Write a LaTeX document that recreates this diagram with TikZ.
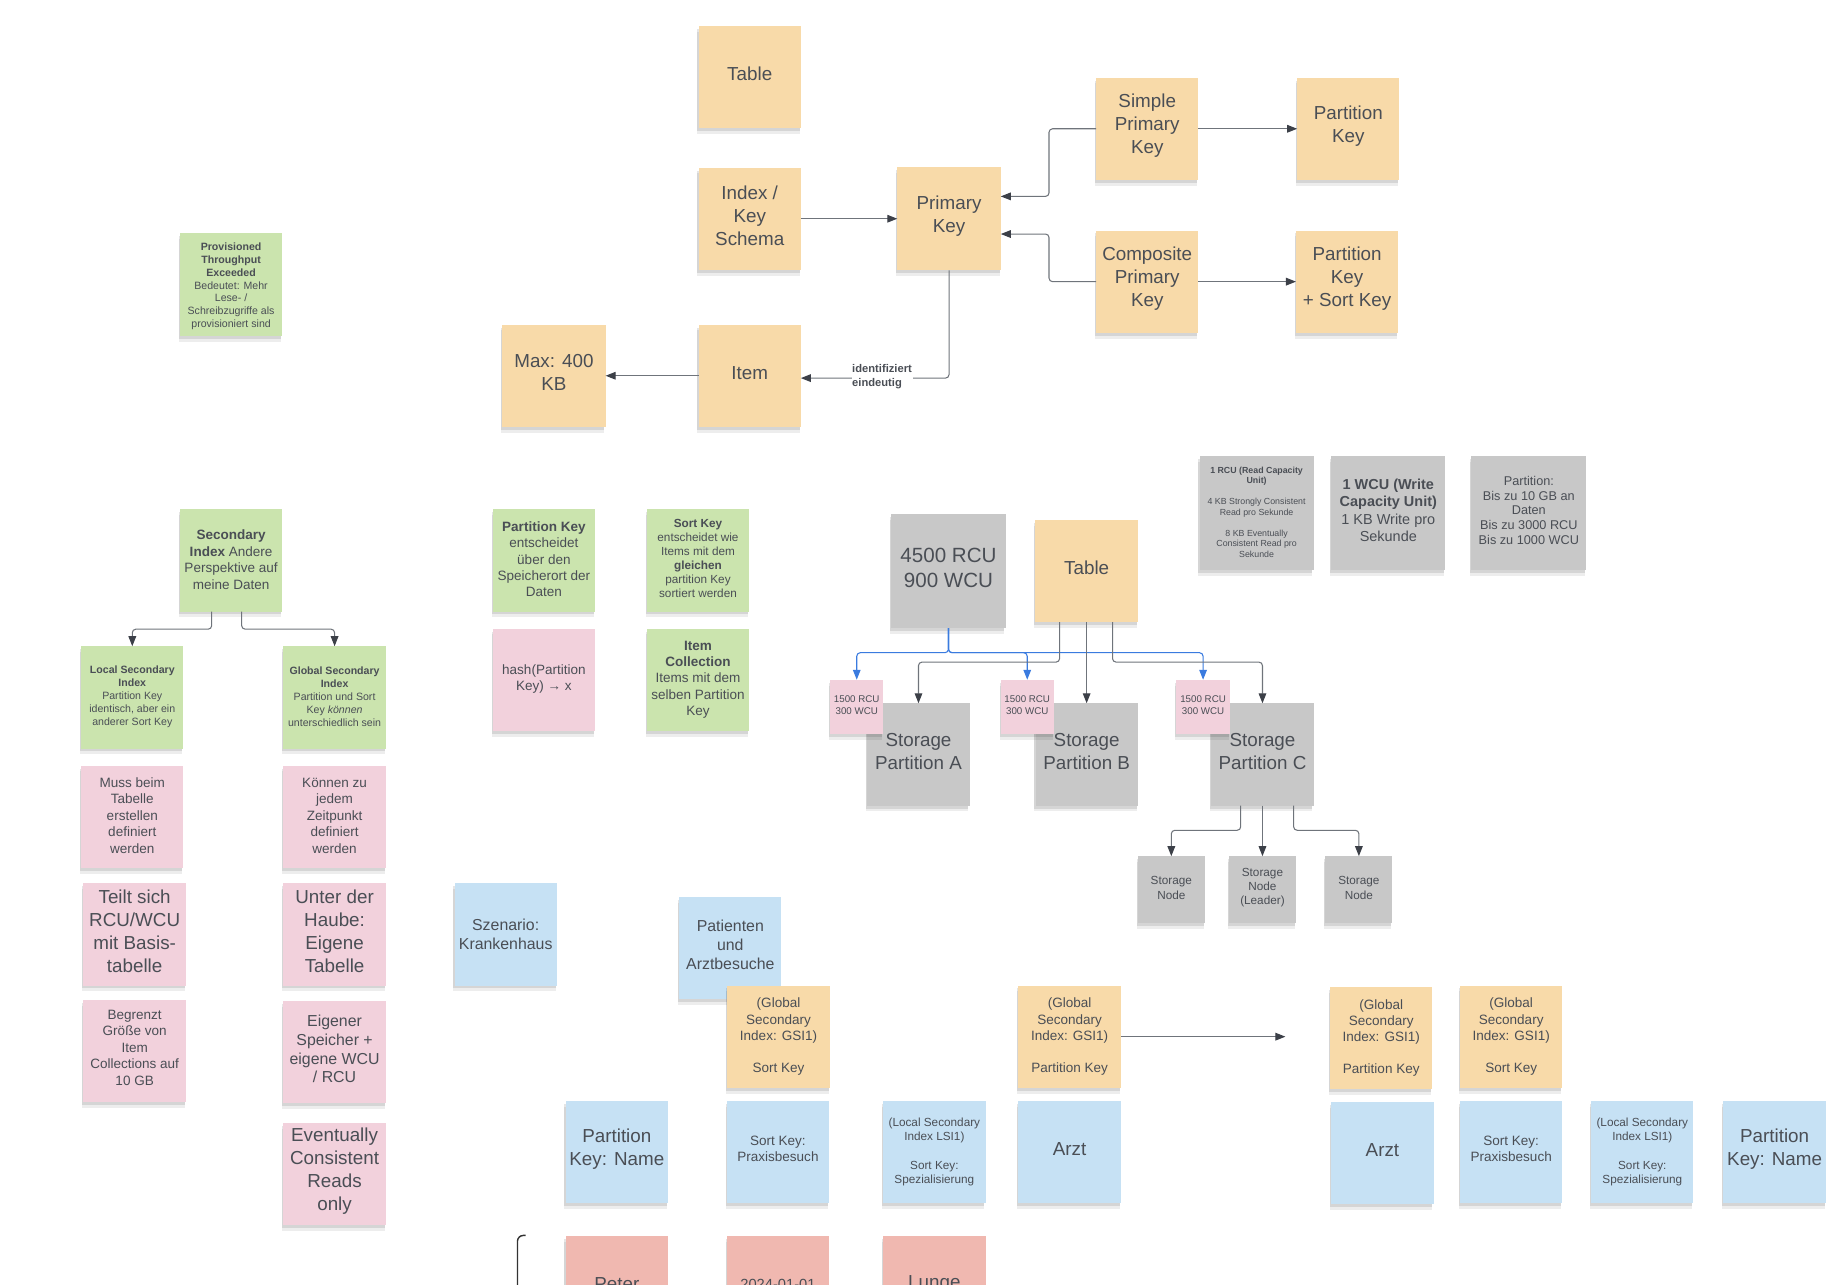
\documentclass[tikz,border=0pt]{standalone}
\usepackage{fontspec}
\setmainfont{Liberation Sans}
\usetikzlibrary{arrows.meta,shadows,calc}
\definecolor{orfill}{HTML}{F8DAA9}
\definecolor{grfill}{HTML}{CBE4AE}
\definecolor{pkfill}{HTML}{F2D1DC}
\definecolor{blfill}{HTML}{C6E1F4}
\definecolor{gyfill}{HTML}{C8C8C8}
\definecolor{smfill}{HTML}{F0B8B0}
\definecolor{txtc}{HTML}{4A4E55}
\definecolor{linec}{HTML}{6F747B}
\definecolor{arrc}{HTML}{3C4048}
\definecolor{bluec}{HTML}{3A7BDF}
\definecolor{brkc}{HTML}{333333}
\newcommand\ftXL{\fontsize{17.5pt}{21pt}\selectfont}
\newcommand\ftL{\fontsize{16pt}{19.5pt}\selectfont}
\newcommand\ftM{\fontsize{13.5pt}{16pt}\selectfont}
\newcommand\ftD{\fontsize{12.5pt}{15pt}\selectfont}
\newcommand\ftW{\fontsize{12.3pt}{14.8pt}\selectfont}
\newcommand\ftN{\fontsize{11.5pt}{14pt}\selectfont}
\newcommand\ftP{\fontsize{10.8pt}{12.7pt}\selectfont}
\newcommand\ftS{\fontsize{10pt}{12pt}\selectfont}
\newcommand\ftI{\fontsize{9.5pt}{11.8pt}\selectfont}
\newcommand\ftT{\fontsize{9pt}{10.9pt}\selectfont}
\newcommand\ftU{\fontsize{8.3pt}{10pt}\selectfont}
\newcommand\ftR{\fontsize{7.5pt}{8.9pt}\selectfont}
\newcommand\stk[6][2.5pt]{%
  \node[#2] (#3) at #4 {};
  \node[nt,font=#5] (#3t) at ([yshift=#1]#3.center) {#6};}
\begin{document}
\begin{tikzpicture}[x=1pt,y=-1pt,
  nt/.style={text=txtc, align=center, inner sep=0pt},
  shadowa/.style={general shadow={fill=black, opacity=0.10, shadow xshift=-1pt, shadow yshift=-2.5pt},
                  general shadow={fill=black, opacity=0.07, shadow xshift=-1pt, shadow yshift=-5pt}},
  note/.style={fill=#1, draw=none, minimum width=87pt, minimum height=87pt, inner sep=0pt, outer sep=0pt, shadowa},
  sz/.style 2 args={minimum width=#1pt, minimum height=#2pt},
  conn/.style={draw=linec, line width=0.9pt, rounded corners=3pt, -{Triangle[length=8.5pt,width=6.5pt,color=arrc]}},
  bconn/.style={draw=bluec, line width=0.9pt, rounded corners=3pt, -{Triangle[length=8.5pt,width=6.5pt]}},
  lbl/.style={fill=white, text=txtc, font=\ftI\bfseries, align=left, inner sep=0.6pt},
  brk/.style={draw=brkc, line width=1.2pt, rounded corners=5pt}
]
\useasboundingbox (0,0) rectangle (1568,1092);
\clip (0,0) rectangle (1568,1092);

% ---------- top: key schema ----------
\stk{note=orfill}{t1}{(637.5,65.5)}{\ftL}{Table}
\stk{note=orfill}{iks}{(637.5,186)}{\ftL}{Index /\\Key\\Schema}
\stk{note=orfill, sz={88}{88}}{pk}{(807,186)}{\ftL}{Primary\\Key}
\stk{note=orfill}{spk}{(975.5,109.5)}{\ftL}{Simple\\Primary\\Key}
\stk{note=orfill}{pk1}{(1146.5,109.5)}{\ftL}{Partition\\Key}
\stk{note=orfill}{cpk}{(975.5,239.5)}{\ftL}{Composite\\Primary\\Key}
\stk{note=orfill}{pksk}{(1145.5,239.5)}{\ftL}{Partition\\Key\\+ Sort Key}
\stk{note=orfill}{item}{(637.5,319.5)}{\ftL}{Item}
\stk{note=orfill, sz={88}{87}}{max}{(471,319.5)}{\ftL}{Max: 400\\KB}
\stk[-1.5pt]{note=grfill}{prov}{(196.5,242)}{\ftT}{\textbf{Provisioned}\\\textbf{Throughput}\\\textbf{Exceeded}\\Bedeutet: Mehr\\Lese- /\\Schreibzugriffe als\\provisioniert sind}

\draw[conn] (iks.east) -- (pk.west);
\draw[conn] (spk.west) -- ++(-40,0) |- ($(pk.east)+(0,-19)$);
\draw[conn] (cpk.west) -- ++(-40,0) |- ($(pk.east)+(0,13)$);
\draw[conn] (spk.east) -- (pk1.west);
\draw[conn] (cpk.east) -- (pksk.west);
\draw[conn] (pk.south) |- ($(item.east)+(0,2)$);
\node[lbl] (idl) at (750,320.5) {identifiziert\\eindeutig};
\draw[conn] (item.west) -- (max.east);

% ---------- storage ----------
\stk{note=gyfill, sz={97}{97}}{r45}{(806.5,485.5)}{\ftXL}{4500 RCU\\900 WCU}
\stk{note=orfill, sz={88}{87}}{t2}{(924,485.5)}{\ftL}{Table}
\stk[1pt]{note=gyfill, sz={97}{97}}{rcu}{(1068.5,436.5)}{\ftR}{\textbf{1 RCU (Read Capacity}\\\textbf{Unit)}\\[8.9pt]4 KB Strongly Consistent\\Read pro Sekunde\\[8.9pt]8 KB Eventually\\Consistent Read pro\\Sekunde}
\stk{note=gyfill, sz={97}{97}}{wcu}{(1180.5,436.5)}{\ftW}{\textbf{1 WCU (Write}\\\textbf{Capacity Unit)}\\1 KB Write pro\\Sekunde}
\stk{note=gyfill, sz={98}{97}}{pinf}{(1300,436.5)}{\ftP}{Partition:\\Bis zu 10 GB an\\Daten\\Bis zu 3000 RCU\\Bis zu 1000 WCU}
\stk{note=gyfill}{spa}{(781,641.5)}{\ftL}{Storage\\Partition A}
\stk{note=gyfill}{spb}{(924,641.5)}{\ftL}{Storage\\Partition B}
\stk{note=gyfill}{spc}{(1073.5,641.5)}{\ftL}{Storage\\Partition C}
\stk[1.5pt]{note=pkfill, sz={45}{46}}{pa}{(728.5,601)}{\ftU}{1500 RCU\\300 WCU}
\stk[1.5pt]{note=pkfill, sz={45}{46}}{pb}{(873.5,601)}{\ftU}{1500 RCU\\300 WCU}
\stk[1.5pt]{note=pkfill, sz={46}{46}}{pc}{(1023,601)}{\ftU}{1500 RCU\\300 WCU}
\stk[1.5pt]{note=gyfill, sz={57}{57}}{sn1}{(996,756.5)}{\ftS}{Storage\\Node}
\stk[1.5pt]{note=gyfill, sz={57}{57}}{sn2}{(1073.5,756.5)}{\ftS}{Storage\\Node\\(Leader)}
\stk[1.5pt]{note=gyfill, sz={57}{57}}{sn3}{(1155.5,756.5)}{\ftS}{Storage\\Node}

\coordinate (bj) at (806.5,555);
\draw[bconn] (r45.south) -- (bj) -| (pa.north);
\draw[bconn] (r45.south) -- (bj) -| (pb.north);
\draw[bconn] (r45.south) -- (bj) -| (pc.north);
\draw[conn] ($(t2.south)+(-23,0)$) -- ++(0,34) -| (spa.north);
\draw[conn] (t2.south) -- (spb.north);
\draw[conn] ($(t2.south)+(22,0)$) -- ++(0,34) -| (spc.north);
\draw[conn] ($(spc.south)+(-18.5,0)$) -- ++(0,21) -| (sn1.north);
\draw[conn] (spc.south) -- (sn2.north);
\draw[conn] ($(spc.south)+(26.5,0)$) -- ++(0,21) -| (sn3.north);

% ---------- secondary index ----------
\stk[0.5pt]{note=grfill}{si}{(196.5,476.5)}{\ftN}{\textbf{Secondary}\\\textbf{Index} Andere\\Perspektive auf\\meine Daten}
\stk[0.5pt]{note=grfill}{lsi}{(112.5,593)}{\ftT}{\textbf{Local Secondary}\\\textbf{Index}\\Partition Key\\identisch, aber ein\\anderer Sort Key}
\stk[0.5pt]{note=grfill}{gsi}{(284.5,593)}{\ftT}{\textbf{Global Secondary}\\\textbf{Index}\\Partition und Sort\\Key \textit{können}\\unterschiedlich sein}
\stk[1pt]{note=pkfill}{m1}{(112.5,694.5)}{\ftN}{Muss beim\\Tabelle\\erstellen\\definiert\\werden}
\stk[1pt]{note=pkfill}{m2}{(284.5,694.5)}{\ftN}{Können zu\\jedem\\Zeitpunkt\\definiert\\werden}
\stk{note=pkfill}{m3}{(114.5,794.5)}{\ftL}{Teilt sich\\RCU/WCU\\mit Basis-\\tabelle}
\stk{note=pkfill}{m4}{(284.5,794.5)}{\ftL}{Unter der\\Haube:\\Eigene\\Tabelle}
\stk{note=pkfill}{m5}{(114.5,893.5)}{\ftN}{Begrenzt\\Größe von\\Item\\Collections auf\\10 GB}
\stk{note=pkfill}{m6}{(284.5,894.5)}{\ftM}{Eigener\\Speicher +\\eigene WCU\\/ RCU}
\stk{note=pkfill}{m7}{(284.5,998.5)}{\ftL}{Eventually\\Consistent\\Reads\\only}
\draw[conn] ($(si.south)+(-16.5,0)$) -- ++(0,15) -| (lsi.north);
\draw[conn] ($(si.south)+(9,0)$) -- ++(0,15) -| (gsi.north);

% ---------- partition / sort key ----------
\stk[1pt]{note=grfill}{pkg}{(462.5,476.5)}{\ftN}{\textbf{Partition Key}\\entscheidet\\über den\\Speicherort der\\Daten}
\stk[1.5pt]{note=grfill}{skg}{(593.5,476.5)}{\ftS}{\textbf{Sort Key}\\entscheidet wie\\Items mit dem\\\textbf{gleichen}\\partition Key\\sortiert werden}
\stk[0.5pt]{note=pkfill}{hash}{(462.5,578)}{\ftN}{hash(Partition\\Key) → x}
\stk[0pt]{note=grfill}{icol}{(593.5,578)}{\ftN}{\textbf{Item}\\\textbf{Collection}\\Items mit dem\\selben Partition\\Key}

% ---------- scenario ----------
\stk[0pt]{note=blfill}{szen}{(430,794.5)}{\ftM}{Szenario:\\Krankenhaus}
\stk{note=blfill}{pat}{(621,806)}{\ftM}{Patienten\\und\\Arztbesuche}
\stk[0pt]{note=orfill}{gs1}{(662,881.5)}{\ftN}{(Global\\Secondary\\Index: GSI1)\\[13pt]Sort Key}
\stk[0pt]{note=orfill}{gp1}{(909.5,881.5)}{\ftN}{(Global\\Secondary\\Index: GSI1)\\[13pt]Partition Key}
\stk[0pt]{note=orfill}{gp2}{(1174.5,882.5)}{\ftN}{(Global\\Secondary\\Index: GSI1)\\[13pt]Partition Key}
\stk[0pt]{note=orfill}{gs2}{(1285,881.5)}{\ftN}{(Global\\Secondary\\Index: GSI1)\\[13pt]Sort Key}
\coordinate (gpend) at (1093,881.5);
\draw[conn] (gp1.east) -- (gpend);

\stk{note=blfill}{b1}{(524.5,979.5)}{\ftL}{Partition\\Key: Name}
\stk{note=blfill}{b2}{(661.5,979.5)}{\ftN}{Sort Key:\\Praxisbesuch}
\stk[0pt]{note=blfill}{b3}{(794.5,979.5)}{\ftS}{(Local Secondary\\Index LSI1)\\[12pt]Sort Key:\\Spezialisierung}
\stk{note=blfill}{b4}{(909.5,979.5)}{\ftL}{Arzt}
\stk{note=blfill}{b5}{(1175.5,980.5)}{\ftL}{Arzt}
\stk{note=blfill}{b6}{(1285,979.5)}{\ftN}{Sort Key:\\Praxisbesuch}
\stk[0pt]{note=blfill}{b7}{(1396.5,979.5)}{\ftS}{(Local Secondary\\Index LSI1)\\[12pt]Sort Key:\\Spezialisierung}
\stk{note=blfill}{b8}{(1509,979.5)}{\ftL}{Partition\\Key: Name}

\stk{note=smfill}{s1}{(524.5,1094.5)}{\ftL}{Peter}
\stk{note=smfill}{s2}{(661.5,1094.5)}{\ftD}{2024-01-01}
\stk{note=smfill}{s3}{(794.5,1094.5)}{\ftL}{Lunge}
\draw[brk] (447,1050.5) -- (440,1050.5) -- (440,1100);
\end{tikzpicture}
\end{document}
